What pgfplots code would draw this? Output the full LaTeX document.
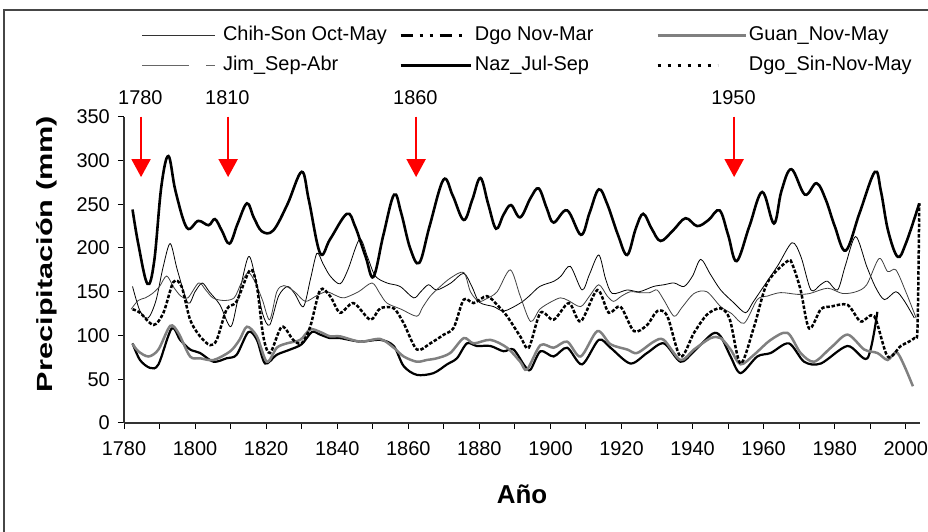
\documentclass[border=0pt]{standalone}
\usepackage{fontspec}
\setmainfont{Liberation Sans}
\usepackage{pgfplots}
\pgfplotsset{compat=1.18}
\usepackage{pgfplotstable}
\usetikzlibrary{arrows.meta}

\pgfplotstableread{
x y
1782.4 156
1784.5 128
1786.8 120
1789 140
1791 178
1793 205
1795 175
1798 137
1800 150
1802 160
1804 150
1807 135
1810 110
1812 140
1815 190
1817 165
1819 125
1821 112
1823.5 145
1826 156
1828 148
1830.5 133
1832.5 165
1834.3 194
1836 182
1838 168
1840.8 159
1843 175
1846.3 210
1848.5 190
1850.7 168
1854 160
1857.7 156
1861.5 143
1863.5 150
1865.7 158
1868 152
1872 160
1875.6 171
1878 155
1880 138
1884 133
1887 128
1891.5 137
1894 145
1897 156
1901 162
1903 168
1905.6 179
1908.9 152
1911 170
1913.6 192
1915.5 165
1917.4 148
1921.6 152
1925 150
1929 156
1932 158
1934.8 160
1937.6 156
1940 168
1942.3 187
1945 170
1947.9 152
1951.7 137
1954.9 126
1957 138
1960 156
1964 180
1968 206
1970.5 190
1973.3 152
1976 158
1978 162
1980.8 152
1983 180
1985.9 213
1989 179
1991.5 155
1994 141
1997.2 150
1999.5 140
2002.4 120
}\chih

\pgfplotstableread{
x y
1782 130
1784 140
1786 143
1788 148
1790 156
1792 168
1794 155
1796 145
1798 143
1801 160
1803 152
1805 143
1808 140
1811 143
1813 160
1815 172
1817 160
1819 140
1821 118
1823 150
1825 157
1828 150
1831 139
1834 145
1837 150
1840 145
1842 143
1846 150
1849.8 160
1852 148
1854 137
1858 130
1862.4 122
1864 132
1866.2 145
1869 156
1872 166
1875.6 172
1877.5 150
1879.8 139
1882 142
1885 150
1888.7 175
1891.5 145
1894.4 116
1897 130
1900 138
1902.8 143
1905 140
1908.5 133
1911 145
1913.6 158
1916 145
1917.8 139
1920 145
1922.5 150
1925 149
1928 149
1930 152
1932 140
1934.8 122
1937 132
1940.4 148
1944 150
1947.9 133
1951 125
1954.5 114
1958.2 141
1961 145
1964.8 149
1969.5 147
1973 148
1978 154
1982.2 148
1986 150
1989 158
1992.5 188
1994.9 173
1997.2 175
2000 150
2002.9 120
}\jim

\pgfplotstableread{
x y
1782.4 244
1784 205
1786.6 159
1788.5 185
1790.5 270
1792.5 305
1794.5 265
1797.7 223
1800.9 231
1803.8 226
1805.6 233
1807.5 220
1809.7 205
1812 228
1814.6 251
1816.5 235
1818.8 219
1822 220
1826 250
1830 287
1832 255
1835.2 194
1838 210
1842.7 239
1845 225
1848 190
1850.2 167
1853 215
1856 261
1858 240
1860.5 200
1863.1 183
1866 225
1869.9 278
1872.5 260
1875.6 232
1878 255
1880.3 280
1882.5 250
1884.7 222
1886.8 238
1888.9 249
1891.5 235
1894.4 257
1896.7 268
1899 245
1900.9 229
1904.7 243
1908.6 215
1911 240
1913.6 267
1916 250
1919 215
1921.6 192
1924 222
1926.1 239
1928.5 222
1931 208
1934.5 220
1938 234
1941.3 225
1944.5 232
1947.6 243
1950 215
1952.4 185
1956 225
1959.6 264
1962.9 228
1965 265
1967.8 290
1971.6 261
1974.9 274
1977.5 255
1980 225
1983.1 197
1987 240
1991.3 287
1993 265
1995 220
1997.7 190
2000 205
2003.8 251
}\naz

\pgfplotstableread{
x y
1782.4 90.6
1784 82
1786.9 76
1789.7 84
1793 111
1795.3 103
1798.6 76
1801.4 74
1805.2 72
1809.9 82
1812.5 95
1814.6 110
1817.4 99
1820.2 70
1823 86
1825.8 91
1829.6 95
1832.4 107
1835.2 104
1838 99
1840.8 99
1846.5 93
1852.1 96
1855.9 86
1858.7 76
1862.4 70
1865.2 72
1868.1 74
1871.8 80
1875.6 97
1878.4 91
1883.1 95
1887.8 86
1891.5 70
1893.4 61
1897.2 89
1900.9 86
1904.7 93
1908.5 76
1913.2 105
1916.9 90
1921.6 84
1924.4 80
1929.1 93
1931.9 95
1936.6 72
1940.4 84
1945.1 97
1947.9 97
1950.7 84
1953.5 67
1957.3 78
1962 95
1966.7 103
1970.4 80
1974.2 70
1978.9 86
1983.6 101
1988.3 84
1992 80
1994.9 72
1997.7 80
2002 42
}\guan

\pgfplotstableread{
x y
1782.4 91
1784.5 72
1787.3 63
1789.7 67
1793.4 108
1795.8 95
1798.6 84
1801.4 80
1805.2 70
1808.9 74
1811.7 78
1815 104
1817.4 95
1819.7 68
1823 78
1826.8 84
1830 90
1832.9 104
1835.2 101
1838 97
1840.8 97
1846.5 93
1852.1 95
1855.9 88
1858.7 65
1862.4 55
1867.1 57
1870.9 67
1873.7 74
1876.5 91
1879.3 88
1883.1 88
1886.8 82
1889.6 84
1892.8 65
1894.4 61
1897.2 82
1900.9 76
1904.7 86
1908.9 67
1913.6 95
1916.9 86
1922.5 68
1927.2 80
1931.9 91
1936.6 70
1940.4 82
1945.6 102
1947.9 99
1950.7 76
1953.5 57
1958.2 76
1962 80
1967.1 91
1971.4 70
1976.1 68
1983.6 88
1989.2 74
1992 127
}\dgonm

\pgfplotstableread{
x y
1782.4 130
1784.5 126
1788.3 112
1791.1 126
1793.9 161
1796.2 156
1798.6 118
1801.4 99
1804.2 89
1806.1 95
1808.9 130
1811.7 139
1815.5 175
1817.4 156
1819.2 99
1821.1 80
1824.4 110
1827.6 95
1830 91
1832.4 110
1835.2 152
1838 145
1840.8 126
1844.6 137
1849.3 118
1852.1 131
1855.9 131
1858.7 114
1862.4 84
1866.2 91
1870 101
1872.8 109
1875.6 141
1878.4 137
1882.1 145
1885 135
1887.8 122
1891.5 99
1893.9 86
1897.2 126
1900.9 118
1905.2 137
1908.5 116
1913.2 152
1916.4 126
1919.7 133
1923.5 105
1927.2 112
1930.1 128
1932.9 122
1936.6 76
1940.4 103
1944.1 124
1947.9 131
1950.5 118
1953.5 68
1957.3 110
1961 160
1966.7 185
1968.1 181
1970.4 152
1972.8 108
1976.1 130
1978.9 133
1983.6 135
1987.3 116
1991.1 122
1994.9 76
1998.6 88
2002.4 97
2003.3 110
2003.8 251
}\dgosin

\definecolor{grayline}{RGB}{128,128,128}
\definecolor{frame}{RGB}{70,70,70}
\definecolor{arrowred}{RGB}{255,0,0}

\begin{document}
\begin{tikzpicture}
\useasboundingbox (0,0) rectangle (928bp,532bp);
\draw[line width=2bp, frame] (4bp,0) -- (4bp,522bp) -- (928bp,522bp);
\begin{axis}[
  at={(124bp,109bp)}, anchor=south west,
  scale only axis, width=796bp, height=306.3bp,
  xmin=1780, xmax=2004, ymin=0, ymax=350,
  axis x line*=bottom, axis y line*=left,
  axis line style={line width=1.5bp, black!80, -},
  xtick={1780,1800,...,2000},
  minor xtick={1790,1810,...,1990},
  ytick={0,50,...,350},
  tick align=outside,
  major tick length=6bp, minor tick length=6bp,
  every tick/.style={line width=1bp, black},
  /pgf/number format/1000 sep={},
  /pgf/number format/assume math mode=true,
  tick label style={font=\fontsize{20}{24}\selectfont},
  xticklabel style={inner sep=0pt, yshift=-12bp},
  yticklabel style={inner sep=0pt, xshift=-8bp},
  xlabel={Año},
  ylabel={\scalebox{1.4}[1]{Precipitación (mm)}},
  x label style={at={(rel axis cs:0.5,-0.232)}, anchor=center, font=\fontsize{26}{30}\selectfont\bfseries},
  y label style={at={(rel axis cs:-0.0967,0.552)}, anchor=center, rotate=0, font=\fontsize{22}{26}\selectfont\bfseries},
  clip=false,
  legend columns=3,
  legend cell align=left,
  legend style={at={(rel axis cs:0,1)}, anchor=north west, xshift=17.5bp, yshift=92bp,
    draw=none, fill=none, inner sep=0pt, row sep=9bp, column sep=0pt,
    font=\fontsize{20}{24}\selectfont,
    nodes={inner sep=1bp, text height=14.5bp, text depth=4.5bp},
    /tikz/column 1/.style={column sep=6.5bp},
    /tikz/column 2/.style={column sep=11.5bp},
    /tikz/column 3/.style={column sep=2bp},
    /tikz/column 4/.style={column sep=62bp},
    /tikz/column 5/.style={column sep=1bp}},
]
\addplot[black, line width=0.8bp, smooth, tension=0.5,
  legend image code/.code={\draw[black!80, line width=0.9bp] (0bp,0bp) -- (73bp,0bp);}]
  table[x=x,y=y] {\chih};
\addlegendentry{Chih-Son Oct-May}
\addplot[black, line width=2.2bp, smooth, tension=0.5,
  legend image code/.code={\draw[black, line width=2.5bp, dash pattern=on 12bp off 7bp on 3bp off 7bp on 3bp off 7bp] (0bp,0bp) -- (63bp,0bp);}]
  table[x=x,y=y] {\dgonm};
\addlegendentry{Dgo Nov-Mar}
\addplot[grayline, line width=2.5bp, smooth, tension=0.5,
  legend image code/.code={\draw[grayline, line width=2.5bp] (0bp,0bp) -- (88bp,0bp);}]
  table[x=x,y=y] {\guan};
\addlegendentry{Guan\_Nov-May}
\addplot[black!75, line width=0.8bp, smooth, tension=0.5,
  legend image code/.code={\draw[black!60, line width=0.9bp, dash pattern=on 47bp off 17bp on 9bp] (0bp,0bp) -- (73bp,0bp);}]
  table[x=x,y=y] {\jim};
\addlegendentry{Jim\_Sep-Abr}
\addplot[black, line width=2.6bp, smooth, tension=0.6,
  legend image code/.code={\draw[black, line width=2.5bp] (0bp,0bp) -- (70bp,0bp);}]
  table[x=x,y=y] {\naz};
\addlegendentry{Naz\_Jul-Sep}
\addplot[black, line width=2.5bp, smooth, tension=0.5, dash pattern=on 3.5bp off 1.8bp,
  legend image code/.code={\draw[black, line width=2.5bp, dash pattern=on 3bp off 7bp] (0bp,0bp) -- (60bp,0bp);}]
  table[x=x,y=y] {\dgosin};
\addlegendentry{Dgo\_Sin-Nov-May}

\draw[arrowred, line width=2bp, -{Triangle[width=19bp,length=18bp]}] (axis cs:1784.8,350) -- (axis cs:1784.8,281);
\draw[arrowred, line width=2bp, -{Triangle[width=19bp,length=18bp]}] (axis cs:1809.3,350) -- (axis cs:1809.3,281);
\draw[arrowred, line width=2bp, -{Triangle[width=19bp,length=18bp]}] (axis cs:1862.2,350) -- (axis cs:1862.2,281);
\draw[arrowred, line width=2bp, -{Triangle[width=19bp,length=18bp]}] (axis cs:1951.7,350) -- (axis cs:1951.7,281);
\node[anchor=base, inner sep=0pt, font=\fontsize{20}{24}\selectfont] at (axis cs:1784.6,363.8) {1780};
\node[anchor=base, inner sep=0pt, font=\fontsize{20}{24}\selectfont] at (axis cs:1809.1,363.8) {1810};
\node[anchor=base, inner sep=0pt, font=\fontsize{20}{24}\selectfont] at (axis cs:1862.0,363.8) {1860};
\node[anchor=base, inner sep=0pt, font=\fontsize{20}{24}\selectfont] at (axis cs:1951.5,363.8) {1950};
\end{axis}
\end{tikzpicture}
\end{document}
